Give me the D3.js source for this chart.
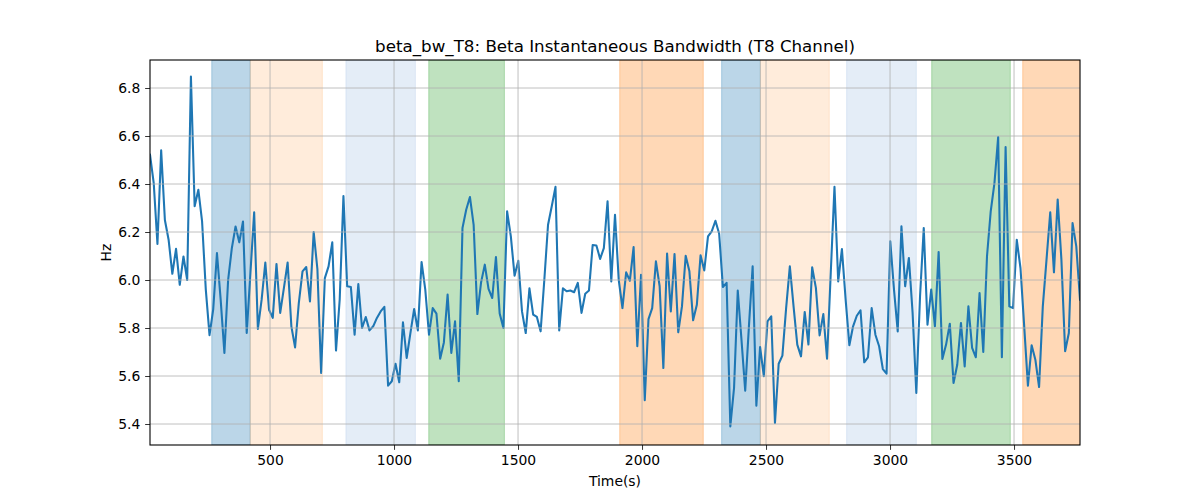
<!DOCTYPE html>
<html>
<head>
<meta charset="utf-8">
<script src="https://cdn.jsdelivr.net/npm/d3@7"></script>
<style>
  html, body { margin: 0; padding: 0; background: #ffffff; }
  svg { display: block; font-family: "DejaVu Sans", sans-serif; }
</style>
</head>
<body>
<svg id="chart" width="1200" height="500"></svg>
<script>
// ---------- data ----------
const titleText = "beta_bw_T8: Beta Instantaneous Bandwidth (T8 Channel)";
const xLabelText = "Time(s)";
const yLabelText = "Hz";

const sampleStart = 16;   // seconds
const sampleStep = 15;    // seconds between samples

const bwValues = [
  6.522, 6.404, 6.15, 6.54, 6.25, 6.168, 6.026, 6.13, 5.98, 6.098, 6.0, 6.848, 6.307, 6.376, 6.244, 5.96, 5.77, 5.879, 6.112, 5.917, 5.696, 6.0, 6.133, 6.223, 6.157, 6.244, 5.779, 6.03, 6.282, 5.796, 5.917, 6.073, 5.876, 5.842, 6.067, 5.863, 5.967, 6.073, 5.807, 5.719, 5.904, 6.036,
  6.054, 5.911, 6.2, 6.045, 5.613, 6.008, 6.057, 6.157, 5.706, 5.92, 6.35, 5.974, 5.971, 5.772, 5.983, 5.8, 5.846, 5.79, 5.807, 5.842, 5.869, 5.888, 5.56, 5.578, 5.651, 5.574, 5.824, 5.675, 5.779, 5.879, 5.79, 6.075, 5.96, 5.772, 5.883, 5.86, 5.672, 5.74, 5.939, 5.696, 5.828, 5.578,
  6.217, 6.293, 6.346, 6.23, 5.858, 5.99, 6.064, 5.963, 5.925, 6.096, 5.86, 5.8, 6.286, 6.182, 6.018, 6.08, 5.869, 5.779, 5.965, 5.856, 5.846, 5.786, 6.0, 6.23, 6.307, 6.388, 5.79, 5.965, 5.953, 5.956, 5.949, 5.988, 5.863, 5.943, 5.956, 6.146, 6.144, 6.088, 6.133, 6.328, 5.994, 6.272,
  6.001, 5.883, 6.032, 5.997, 6.137, 5.724, 6.022, 5.499, 5.837, 5.883, 6.078, 5.974, 5.633, 6.11, 5.869, 6.108, 5.782, 5.89, 6.101, 6.036, 5.832, 5.897, 6.103, 6.04, 6.182, 6.203, 6.247, 6.193, 5.971, 5.988, 5.39, 5.55, 5.956, 5.751, 5.539, 5.807, 6.057, 5.476, 5.721, 5.599, 5.828,
  5.849, 5.404, 5.651, 5.685, 5.883, 6.057, 5.89, 5.731, 5.682, 5.867, 5.731, 6.053, 5.967, 5.769, 5.858, 5.672, 6.03, 6.388, 5.994, 6.129, 5.918, 5.728, 5.807, 5.851, 5.874, 5.657, 5.678, 5.883, 5.772, 5.724, 5.629, 5.61, 6.161, 5.96, 5.786, 6.224, 5.974, 6.092, 5.863, 5.529, 5.932, 6.217,
  5.814, 5.96, 5.807, 6.117, 5.671, 5.731, 5.818, 5.571, 5.647, 5.821, 5.64, 5.89, 5.717, 5.678, 5.946, 5.7, 6.099, 6.286, 6.404, 6.596, 5.678, 6.554, 5.89, 5.883, 6.168, 6.05, 5.807, 5.56, 5.728, 5.668, 5.554, 5.89, 6.085, 6.282, 6.032, 6.335, 6.085, 5.703, 5.779, 6.237, 6.14, 5.918
];

// shaded intervals (seconds) and their kind
const bandStarts = [265, 420, 806, 1140, 1910, 2321, 2477, 2825, 3168, 3535];
const bandEnds   = [420, 711, 1086, 1445, 2247, 2477, 2755, 3106, 3485, 3800];
const bandKinds  = ["A", "B", "C", "D", "E", "A", "B", "C", "D", "E"];

const xTicks = [500, 1000, 1500, 2000, 2500, 3000, 3500];
const yTicks = [5.4, 5.6, 5.8, 6.0, 6.2, 6.4, 6.6, 6.8];

// ---------- styles ----------
const bandStyle = {
  A: { color: "#1f77b4", opacity: 0.3 },
  B: { color: "#ff7f0e", opacity: 0.15 },
  C: { color: "#aec7e8", opacity: 0.33 },
  D: { color: "#2ca02c", opacity: 0.3 },
  E: { color: "#ff7f0e", opacity: 0.3 }
};

const W = 1200, H = 500;
const margin = { left: 150, right: 120, top: 60, bottom: 55 };
const pw = W - margin.left - margin.right;
const ph = H - margin.top - margin.bottom;

const times = bwValues.map((_, i) => sampleStart + i * sampleStep);
const series = bwValues.map((v, i) => ({ t: times[i], v }));

const x = d3.scaleLinear().domain([times[0], times[times.length - 1]]).range([0, pw]);
const y = d3.scaleLinear().domain([5.3125, 6.9167]).range([ph, 0]);

const svg = d3.select("#chart");
svg.append("rect").attr("width", W).attr("height", H).attr("fill", "#fff");

const g = svg.append("g").attr("transform", `translate(${margin.left},${margin.top})`);

svg.append("defs").append("clipPath").attr("id", "clip")
  .append("rect").attr("width", pw).attr("height", ph);

const plot = g.append("g").attr("clip-path", "url(#clip)");

// bands
const bands = bandStarts.map((s, i) => ({ s, e: bandEnds[i], k: bandKinds[i] }));
plot.selectAll("rect.band").data(bands).enter().append("rect")
  .attr("class", "band")
  .attr("x", d => x(d.s))
  .attr("width", d => x(d.e) - x(d.s))
  .attr("y", 0)
  .attr("height", ph)
  .attr("fill", d => bandStyle[d.k].color)
  .attr("fill-opacity", d => bandStyle[d.k].opacity)
  .attr("stroke", d => bandStyle[d.k].color)
  .attr("stroke-opacity", d => bandStyle[d.k].opacity)
  .attr("stroke-width", 1);

// grid
const grid = g.append("g");
grid.selectAll("line.vg").data(xTicks).enter().append("line")
  .attr("x1", d => x(d)).attr("x2", d => x(d))
  .attr("y1", 0).attr("y2", ph)
  .attr("stroke", "#b0b0b0").attr("stroke-width", 0.8);
grid.selectAll("line.hg").data(yTicks).enter().append("line")
  .attr("y1", d => y(d)).attr("y2", d => y(d))
  .attr("x1", 0).attr("x2", pw)
  .attr("stroke", "#b0b0b0").attr("stroke-width", 0.8);

// line
plot.append("path").datum(series)
  .attr("fill", "none")
  .attr("stroke", "#1f77b4")
  .attr("stroke-width", 2.08)
  .attr("stroke-linejoin", "round")
  .attr("stroke-linecap", "square")
  .attr("d", d3.line().x(d => x(d.t)).y(d => y(d.v)));

// axes
const xAxis = d3.axisBottom(x).tickValues(xTicks).tickSize(4.86).tickPadding(4.86).tickFormat(d3.format("d"));
const yAxis = d3.axisLeft(y).tickValues(yTicks).tickSize(4.86).tickPadding(4.86).tickFormat(d3.format(".1f"));

const gx = g.append("g").attr("transform", `translate(0,${ph})`).call(xAxis);
const gy = g.append("g").call(yAxis);
[gx, gy].forEach(a => {
  a.select(".domain").remove();
  a.selectAll("line").attr("stroke", "#000").attr("stroke-width", 0.8);
  a.selectAll("text").attr("fill", "#000").style("font-size", "13.9px").style("font-family", "DejaVu Sans, sans-serif");
});

// frame
g.append("rect").attr("width", pw).attr("height", ph)
  .attr("fill", "none").attr("stroke", "#000").attr("stroke-width", 1.1);

// texts
svg.append("text").attr("x", margin.left + pw / 2).attr("y", 52)
  .attr("text-anchor", "middle").style("font-size", "16.7px").attr("fill", "#000")
  .text(titleText);
svg.append("text").attr("x", margin.left + pw / 2).attr("y", 486)
  .attr("text-anchor", "middle").style("font-size", "13.9px").attr("fill", "#000")
  .text(xLabelText);
svg.append("text").attr("transform", `translate(111,${margin.top + ph / 2}) rotate(-90)`)
  .attr("text-anchor", "middle").style("font-size", "13.9px").attr("fill", "#000")
  .text(yLabelText);
</script>
</body>
</html>
